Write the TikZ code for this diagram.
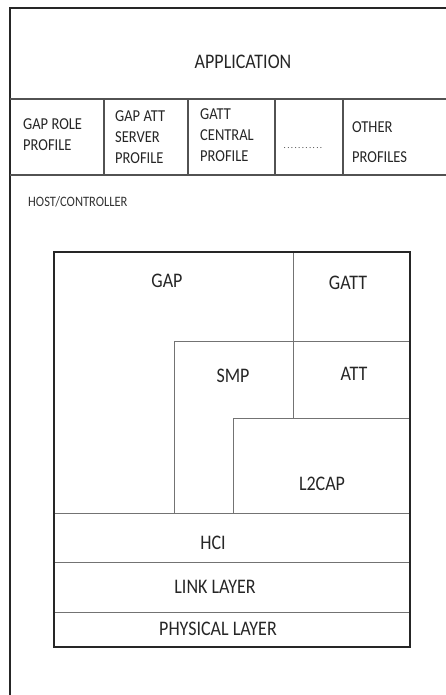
\documentclass[tikz,border=0pt]{standalone}
\usepackage{fontspec}
\usepackage{graphicx}
\setmainfont{Carlito}
\newcommand\vstretch[1]{\scalebox{1}[1.15]{#1}}
\newcommand\vstack[1]{\scalebox{1}[1.15]{\begin{tabular}{@{}l@{}}#1\end{tabular}}}
\begin{document}
\begin{tikzpicture}[x=1pt,y=-1pt,
  frame/.style={line width=1.8pt, draw=black!85},
  divider/.style={line width=0.9pt, draw=black!55},
  pdivider/.style={line width=1.1pt, draw=black!68},
  lbl/.style={text=black!85, inner sep=0pt, font=\fontsize{18}{20}\selectfont},
  prof/.style={text=black!85, inner sep=0pt, anchor=west, font=\fontsize{14.5}{18.3}\selectfont},
  small/.style={text=black!80, inner sep=0pt, anchor=west, font=\fontsize{12.5}{14}\selectfont},
]
\useasboundingbox (0,0) rectangle (445,695);
% outer frame
\draw[frame] (10,696) -- (10,8) -- (446,8);
\draw[pdivider] (10,99) -- (446,99);
\draw[pdivider] (10,175) -- (446,175);
\foreach \x in {104,188,275,343} \draw[pdivider] (\x,99) -- (\x,175);
\node[lbl] (app) at (243,62) {\vstretch{APPLICATION}};
\node[prof] (p1) at (23,135.5) {\vstack{GAP ROLE\\PROFILE}};
\node[prof] (p2) at (115,138) {\vstack{GAP ATT\\SERVER\\PROFILE}};
\node[prof] (p3) at (200,136) {\vstack{GATT\\CENTRAL\\PROFILE}};
\node[text=black!75, inner sep=0pt, font=\fontsize{9}{10}\selectfont] (p4) at (303,148)
  {\makebox[40pt]{\xleaders\hbox to 3.6pt{\hss.\hss}\hfill}};
\node[prof] (p5) at (352,143) {\vstack{OTHER\\[7.7pt]PROFILES}};
\node[small] (host) at (28,202) {\vstretch{HOST/CONTROLLER}};
% inner stack
\draw[divider] (293,252) -- (293,418);
\draw[divider] (174,513) -- (174,341) -- (410,341);
\draw[divider] (233,513) -- (233,418) -- (410,418);
\draw[divider] (54,513) -- (410,513);
\draw[divider] (54,562) -- (410,562);
\draw[divider] (54,612) -- (410,612);
\draw[frame] (54,252) rectangle (410,647);
\node[lbl] (gap) at (167,281) {\vstretch{GAP}};
\node[lbl] (gatt) at (348,283) {\vstretch{GATT}};
\node[lbl] (smp) at (233,376) {\vstretch{SMP}};
\node[lbl] (att) at (354,374) {\vstretch{ATT}};
\node[lbl] (l2cap) at (322,484) {\vstretch{L2CAP}};
\node[lbl] (hci) at (213,543) {\vstretch{HCI}};
\node[lbl] (link) at (215,587) {\vstretch{LINK LAYER}};
\node[lbl] (phy) at (218,629) {\vstretch{PHYSICAL LAYER}};
\end{tikzpicture}
\end{document}
